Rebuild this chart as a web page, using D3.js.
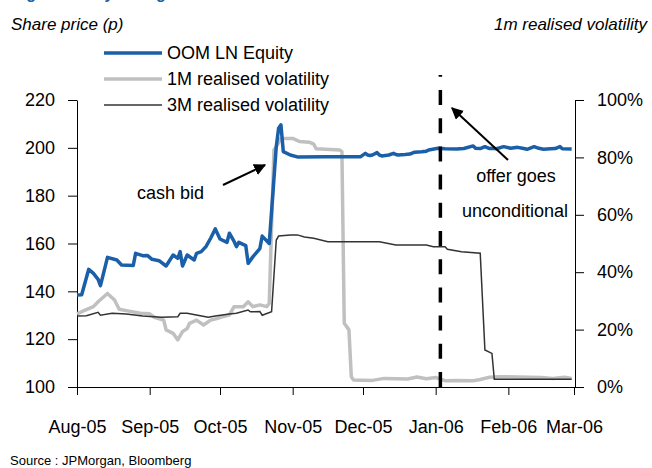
<!DOCTYPE html>
<html>
<head>
<meta charset="utf-8">
<script src="https://cdn.jsdelivr.net/npm/d3@7"></script>
<style>
  html, body { margin: 0; padding: 0; background: #fff; }
  svg { display: block; font-family: "Liberation Sans", Arial, sans-serif; }
</style>
</head>
<body>
<svg id="chart" width="652" height="468"></svg>
<script>
// ---------- DATA ----------
const monthTicks = ["2005-08-01","2005-09-01","2005-10-01","2005-11-01","2005-12-01","2006-01-01","2006-02-01","2006-03-01"];
const priceTicks = [100, 120, 140, 160, 180, 200, 220];
const volTicks = [0, 0.2, 0.4, 0.6, 0.8, 1.0];

const equityDates = ["2005-08-01","2005-08-03","2005-08-06","2005-08-08","2005-08-10","2005-08-11","2005-08-14","2005-08-18","2005-08-20","2005-08-25","2005-08-26","2005-08-29","2005-08-31","2005-09-02","2005-09-05","2005-09-08","2005-09-11","2005-09-13","2005-09-14","2005-09-15","2005-09-17","2005-09-20","2005-09-21","2005-09-23","2005-09-25","2005-09-27","2005-09-29","2005-10-01","2005-10-04","2005-10-05","2005-10-07","2005-10-08","2005-10-09","2005-10-12","2005-10-13","2005-10-15","2005-10-18","2005-10-19","2005-10-22","2005-10-25","2005-10-26","2005-10-27","2005-10-28","2005-10-31","2005-11-03","2005-11-15","2005-11-30","2005-12-02","2005-12-03","2005-12-04","2005-12-05","2005-12-07","2005-12-08","2005-12-09","2005-12-12","2005-12-14","2005-12-15","2005-12-16","2005-12-19","2005-12-21","2005-12-23","2005-12-26","2005-12-28","2005-12-29","2006-01-02","2006-01-05","2006-01-10","2006-01-13","2006-01-17","2006-01-18","2006-01-20","2006-01-22","2006-01-24","2006-01-25","2006-01-27","2006-01-30","2006-02-02","2006-02-05","2006-02-07","2006-02-09","2006-02-12","2006-02-14","2006-02-16","2006-02-19","2006-02-21","2006-02-23","2006-02-24","2006-02-28"];
const equityValues = [138.5,138.6,149.2,147.5,145,142.4,154.2,153.1,151,150.8,155.9,154.9,155,153.4,152.8,150.6,155.2,153.8,156.6,150.6,155.2,153.1,155.9,156.6,158.7,162.2,166.1,161.9,160.5,164.3,160.9,158.7,160.5,159.1,151.7,154.4,157.9,163.1,160,200.5,208.2,209.6,198.4,197,196.2,196.3,196.3,197.7,197,196.8,197,198,197,196.6,197,197.7,197.2,197,197.2,197.4,198.2,198.4,198.6,199.1,199.8,199.6,199.5,199.7,200.8,199.8,199.7,200.5,199.7,199.8,199.6,200.5,199.8,200.2,199.8,199.4,200.5,199.8,199.4,199.6,199.7,200.5,199.6,199.5];

const vol1mDates = ["2005-08-01","2005-08-04","2005-08-08","2005-08-10","2005-08-14","2005-08-17","2005-08-19","2005-08-22","2005-08-28","2005-09-01","2005-09-03","2005-09-07","2005-09-08","2005-09-11","2005-09-13","2005-09-15","2005-09-17","2005-09-18","2005-09-21","2005-09-24","2005-09-27","2005-09-30","2005-10-02","2005-10-05","2005-10-07","2005-10-11","2005-10-13","2005-10-15","2005-10-18","2005-10-21","2005-10-22","2005-10-24","2005-10-25","2005-10-27","2005-11-01","2005-11-04","2005-11-08","2005-11-10","2005-11-11","2005-11-21","2005-11-22","2005-11-23","2005-11-25","2005-11-26","2005-11-27","2005-12-05","2005-12-10","2005-12-20","2005-12-24","2005-12-28","2006-01-01","2006-01-05","2006-01-10","2006-01-17","2006-01-20","2006-01-24","2006-01-28","2006-02-05","2006-02-15","2006-02-20","2006-02-25","2006-02-28"];
const vol1mValues = [0.255,0.266,0.28,0.297,0.326,0.303,0.271,0.266,0.257,0.255,0.243,0.233,0.199,0.187,0.164,0.193,0.204,0.222,0.233,0.216,0.233,0.239,0.245,0.251,0.28,0.28,0.297,0.28,0.286,0.28,0.292,0.826,0.837,0.866,0.866,0.855,0.853,0.846,0.83,0.826,0.82,0.222,0.199,0.036,0.024,0.023,0.03,0.028,0.035,0.029,0.033,0.022,0.023,0.022,0.026,0.034,0.036,0.035,0.033,0.03,0.034,0.03];

const vol3mDates = ["2005-08-01","2005-08-05","2005-08-10","2005-08-11","2005-08-16","2005-08-22","2005-08-29","2005-09-06","2005-09-13","2005-09-14","2005-09-17","2005-09-22","2005-09-26","2005-09-29","2005-10-05","2005-10-08","2005-10-13","2005-10-14","2005-10-18","2005-10-19","2005-10-23","2005-10-25","2005-10-26","2005-10-31","2005-11-03","2005-11-06","2005-11-10","2005-11-16","2005-12-08","2005-12-15","2005-12-28","2005-12-31","2006-01-05","2006-01-06","2006-01-12","2006-01-20","2006-01-22","2006-01-25","2006-01-26","2006-02-28"];
const vol3mValues = [0.247,0.248,0.26,0.25,0.257,0.254,0.247,0.243,0.245,0.257,0.257,0.249,0.243,0.247,0.254,0.257,0.268,0.262,0.263,0.25,0.262,0.512,0.526,0.53,0.53,0.523,0.518,0.506,0.506,0.495,0.495,0.489,0.489,0.48,0.471,0.466,0.129,0.117,0.027,0.027];

const offerDate = "2006-01-03";
const seriesNames = ["OOM LN Equity", "1M realised volatility", "3M realised volatility"];
const seriesColors = ["#1a5fa8", "#c0c0c0", "#333333"];

// ---------- CHART ----------
const parse = d3.timeParse("%Y-%m-%d");
const svg = d3.select("#chart");
const L = 77, R = 575, T = 100, B = 387;

const x = d3.scaleTime().domain([parse(monthTicks[0]), parse(monthTicks[monthTicks.length - 1])]).range([L, R - 1]);
const yL = d3.scaleLinear().domain([100, 220]).range([B, T]);
const yR = d3.scaleLinear().domain([0, 1]).range([B, T]);

const FS = "18px";

// Title, cut off by the top edge as in the reference
svg.append("text").attr("x", 12).attr("y", -1)
  .attr("fill", "#1a5fa8").attr("font-weight", "bold").attr("font-size", "16px")
  .text("Figure 1: Key timing");

// Axis titles
svg.append("text").attr("x", 11).attr("y", 30).attr("font-style", "italic").attr("font-size", "17px").text("Share price (p)");
svg.append("text").attr("x", 647).attr("y", 30).attr("text-anchor", "end").attr("font-style", "italic").attr("font-size", "17px").text("1m realised volatility");

// Axes
const gL = svg.append("g").attr("transform", `translate(${L},0)`)
  .call(d3.axisLeft(yL).tickValues(priceTicks).tickSize(9).tickPadding(13).tickSizeOuter(0));
const gR = svg.append("g").attr("transform", `translate(${R},0)`)
  .call(d3.axisRight(yR).tickValues(volTicks).tickFormat(d3.format(".0%")).tickSize(9).tickPadding(13).tickSizeOuter(0));
const gB = svg.append("g").attr("transform", `translate(0,${B})`)
  .call(d3.axisBottom(x).tickValues(monthTicks.map(parse)).tickFormat(d3.timeFormat("%b-%y")).tickSize(8).tickPadding(25).tickSizeOuter(0));
[gL, gR, gB].forEach(g => {
  g.selectAll("text").attr("font-size", FS).attr("fill", "#000").attr("font-family", "'Liberation Sans', Arial, sans-serif");
  g.selectAll("line,path").attr("stroke", "#000").attr("stroke-width", 1);
});

// Lines
const lineL = d3.line().x(d => x(d[0])).y(d => yL(d[1]));
const lineR = d3.line().x(d => x(d[0])).y(d => yR(d[1]));
const eq = equityDates.map((d, i) => [parse(d), equityValues[i]]);
const v1 = vol1mDates.map((d, i) => [parse(d), vol1mValues[i]]);
const v3 = vol3mDates.map((d, i) => [parse(d), vol3mValues[i]]);

svg.append("path").datum(v1).attr("d", lineR).attr("fill", "none").attr("stroke", seriesColors[1]).attr("stroke-width", 3.5).attr("stroke-linejoin", "round");
svg.append("path").datum(v3).attr("d", lineR).attr("fill", "none").attr("stroke", seriesColors[2]).attr("stroke-width", 1.5);
svg.append("path").datum(eq).attr("d", lineL).attr("fill", "none").attr("stroke", seriesColors[0]).attr("stroke-width", 3.5).attr("stroke-linejoin", "round");

// Offer dashed line
svg.append("line")
  .attr("x1", x(parse(offerDate))).attr("x2", x(parse(offerDate)))
  .attr("y1", yR(0)).attr("y2", 75)
  .attr("stroke", "#000").attr("stroke-width", 3.5).attr("stroke-dasharray", "15,13.2");

// Legend
const lg = svg.append("g");
const legY = [53, 79, 105];
const legW = [3.5, 3.5, 1.5];
seriesNames.forEach((n, i) => {
  lg.append("line").attr("x1", 104).attr("x2", 162).attr("y1", legY[i]).attr("y2", legY[i])
    .attr("stroke", seriesColors[i]).attr("stroke-width", legW[i]);
  lg.append("text").attr("x", 167).attr("y", legY[i]).attr("dy", "0.35em").attr("font-size", FS).text(n);
});

// Arrow marker
const defs = svg.append("defs");
defs.append("marker").attr("id", "arr").attr("viewBox", "0 0 10 10").attr("refX", 9).attr("refY", 5)
  .attr("markerWidth", 12).attr("markerHeight", 12).attr("markerUnits", "userSpaceOnUse").attr("orient", "auto")
  .append("path").attr("d", "M0,0L10,5L0,10z").attr("fill", "#000");

// Annotations
svg.append("text").attr("x", 137).attr("y", 199).attr("font-size", FS).text("cash bid");
svg.append("line").attr("x1", 223).attr("y1", 185).attr("x2", 265).attr("y2", 165)
  .attr("stroke", "#000").attr("stroke-width", 2).attr("marker-end", "url(#arr)");

svg.append("text").attr("x", 516).attr("y", 182).attr("text-anchor", "middle").attr("font-size", FS).text("offer goes");
svg.append("text").attr("x", 515).attr("y", 217).attr("text-anchor", "middle").attr("font-size", FS).text("unconditional");
svg.append("line").attr("x1", 508).attr("y1", 160).attr("x2", 452).attr("y2", 108)
  .attr("stroke", "#000").attr("stroke-width", 2).attr("marker-end", "url(#arr)");

// Source
svg.append("text").attr("x", 10).attr("y", 465).attr("font-size", "13px").text("Source : JPMorgan, Bloomberg");
</script>
</body>
</html>
